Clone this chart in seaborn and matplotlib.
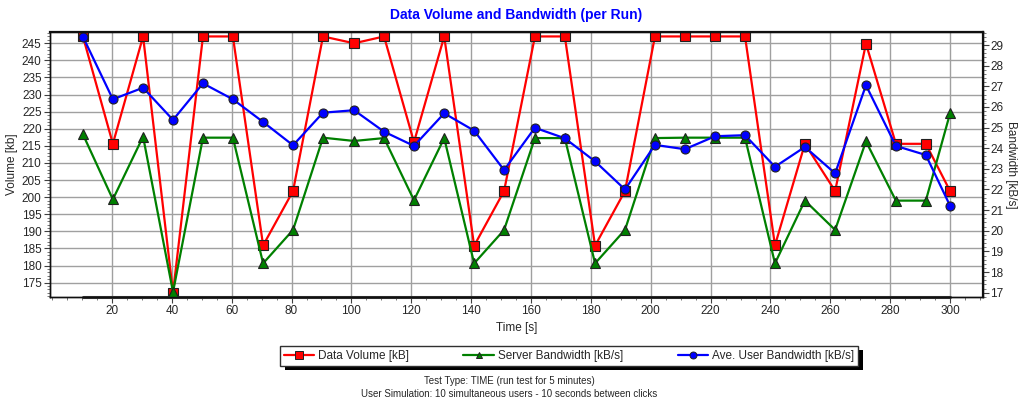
import matplotlib
matplotlib.use('Agg')
import matplotlib.pyplot as plt
import seaborn as sns
import pandas as pd
from matplotlib.lines import Line2D
from matplotlib.patches import Rectangle
from matplotlib.ticker import MultipleLocator, AutoMinorLocator

# run times [s] and the three series
TIMES = [10.3, 20.3, 30.4, 40.4, 50.4, 60.4, 70.5, 80.5, 90.5, 100.9,
         110.9, 120.9, 131.0, 141.0, 151.0, 161.3, 171.3, 181.4, 191.4, 201.4,
         211.4, 221.5, 231.5, 241.5, 251.5, 261.6, 271.9, 281.9, 291.9, 300.0]
DATA_VOLUME = [247, 215.6, 247, 172.1, 247, 247, 185.9, 201.8, 247, 245,
               247, 216.1, 247, 185.8, 201.8, 247, 247, 185.8, 201.8, 247,
               247, 247, 247, 185.9, 215.6, 201.8, 244.9, 215.6, 215.6, 201.8]
SERVER_BW = [24.67, 21.52, 24.56, 17.03, 24.51, 24.51, 18.42, 20.04, 24.51, 24.35,
             24.49, 21.48, 24.49, 18.42, 20.04, 24.49, 24.49, 18.42, 20.04, 24.49,
             24.51, 24.51, 24.51, 18.42, 21.46, 20.04, 24.33, 21.46, 21.46, 25.69]
USER_BW = [29.4, 26.37, 26.93, 25.37, 27.14, 26.37, 25.27, 24.14, 25.72, 25.84,
           24.80, 24.11, 25.69, 24.85, 22.94, 24.99, 24.48, 23.36, 22.0, 24.16,
           23.95, 24.58, 24.63, 23.10, 24.06, 22.78, 27.05, 24.11, 23.67, 21.21]

LABELS = ['Data Volume [kB]', 'Server Bandwidth [kB/s]', 'Ave. User Bandwidth [kB/s]']
NOTES = ['Test Type: TIME (run test for 5 minutes)',
         'User Simulation: 10 simultaneous users - 10 seconds between clicks']

df = pd.DataFrame({'time': TIMES, 'volume': DATA_VOLUME,
                   'server': SERVER_BW, 'user': USER_BW})

sns.set_style('white')
plt.rcParams['font.family'] = ['Liberation Sans', 'DejaVu Sans']
plt.rcParams['font.size'] = 8

W, H = 1019, 403
fig = plt.figure(figsize=(W / 100, H / 100), dpi=100)
ax = fig.add_axes([50 / W, 1 - 297 / H, 933 / W, 265 / H])
ax2 = ax.twinx()

sns.lineplot(data=df, x='time', y='volume', ax=ax, color='#ff0000', lw=1.6,
             marker='s', markersize=7.5, markeredgecolor='#202020',
             markeredgewidth=0.8, legend=False)
sns.lineplot(data=df, x='time', y='server', ax=ax2, color='#008000', lw=1.6,
             marker='^', markersize=6.5, markeredgecolor='#202020',
             markeredgewidth=0.8, legend=False)
sns.lineplot(data=df, x='time', y='user', ax=ax2, color='#0000ff', lw=1.6,
             marker='o', markersize=6.5, markeredgecolor='#202020',
             markeredgewidth=0.8, legend=False)

ax.set_xlim(-0.7, 311)
ax.set_ylim(170.8, 248.3)
ax2.set_ylim(16.79, 29.63)

ax.xaxis.set_major_locator(MultipleLocator(20))
ax.xaxis.set_minor_locator(MultipleLocator(5))
ax.yaxis.set_major_locator(MultipleLocator(5))
ax.yaxis.set_minor_locator(MultipleLocator(1))
ax2.yaxis.set_major_locator(MultipleLocator(1))
ax2.yaxis.set_minor_locator(AutoMinorLocator(5))
ax.set_xticks(range(20, 301, 20))
ax.set_yticks(range(175, 246, 5))

ax.grid(True, which='major', color='#a0a0a0', lw=1)
ax.set_axisbelow(True)
ax.tick_params(which='major', direction='out', length=4, width=0.8, color='#404040',
               labelsize=8.5, pad=2, bottom=True, left=True)
ax.tick_params(which='minor', direction='out', length=2, width=0.6, color='#606060',
               bottom=True, left=True)
ax2.tick_params(which='major', direction='out', length=4, width=0.8, color='#404040',
                labelsize=8.5, pad=1, right=True)
ax2.tick_params(which='minor', direction='out', length=2, width=0.6, color='#606060',
                right=True)

for a in (ax, ax2):
    for s in a.spines.values():
        s.set_color('#101010')
        s.set_linewidth(1.0)
ax2.spines['top'].set_linewidth(1.6)
ax2.spines['right'].set_linewidth(1.6)

# dark bar along the bottom covering the run range
ax.plot([TIMES[0], TIMES[-1]], [0, 0], transform=ax.get_xaxis_transform(),
        color='#303030', lw=2.2, clip_on=False, zorder=5)

ax.set_xlabel('Time [s]', fontsize=8.5, labelpad=3)
ax.set_ylabel('Volume [kb]', fontsize=8.5, labelpad=3)
ax2.set_ylabel('Bandwidth [kB/s]', fontsize=8.5, rotation=270, labelpad=10)
ax.set_title('Data Volume and Bandwidth (per Run)', color='#0000ff',
             fontsize=10, fontweight='bold', pad=9)

# legend with smaller markers, like the original
handles = [
    Line2D([], [], color='#ff0000', lw=1.6, marker='s', markersize=5.5,
           markeredgecolor='#202020', markeredgewidth=0.7),
    Line2D([], [], color='#008000', lw=1.6, marker='^', markersize=4.5,
           markeredgecolor='#202020', markeredgewidth=0.7),
    Line2D([], [], color='#0000ff', lw=1.6, marker='o', markersize=5,
           markeredgecolor='#202020', markeredgewidth=0.7),
]
leg = fig.legend(handles, LABELS, loc='center', ncol=3, mode='expand',
                 bbox_to_anchor=(280 / W, 1 - 365 / H, 578 / W, 18 / H),
                 frameon=True, fancybox=False, edgecolor='#303030',
                 facecolor='white', framealpha=1,
                 fontsize=8.5, handlelength=2.6, handletextpad=0.35,
                 borderpad=0.3, borderaxespad=0)
leg.get_frame().set_linewidth(1.0)

# hard black drop shadow behind the legend box
fig.canvas.draw()
bb = leg.get_window_extent().transformed(fig.transFigure.inverted())
fig.patches.append(Rectangle((bb.x0 + 5 / W, bb.y0 - 4 / H), bb.width, bb.height,
                             transform=fig.transFigure, facecolor='black',
                             edgecolor='none', zorder=0))
leg.set_zorder(5)

fig.text(509 / W, 1 - 381 / H, NOTES[0], ha='center', va='center', fontsize=7)
fig.text(509 / W, 1 - 394 / H, NOTES[1], ha='center', va='center', fontsize=7)

fig.savefig('out.png', dpi=100)
